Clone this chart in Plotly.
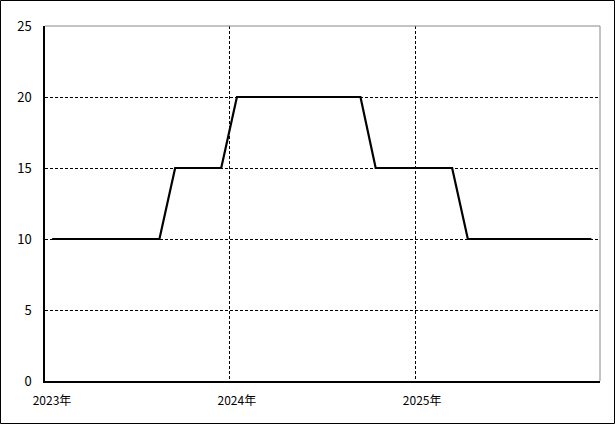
import plotly.graph_objects as go

months = [f"{y}-{m:02d}-15" for y in (2023, 2024, 2025) for m in range(1, 13)]
values = [10, 10, 10, 10, 10, 10, 10, 10, 15, 15, 15, 15,
          20, 20, 20, 20, 20, 20, 20, 20, 20, 15, 15, 15,
          15, 15, 15, 10, 10, 10, 10, 10, 10, 10, 10, 10]
x_tickvals = ["2023-01-01", "2024-01-01", "2025-01-01"]
x_ticktext = ["2023年", "2024年", "2025年"]
y_tickvals = [0, 5, 10, 15, 20, 25]

W, H = 615, 424
ML, MR, MT, MB = 45, 15, 26, 43
PW, PH = W - ML - MR, H - MT - MB

FONT = "Noto Sans CJK JP, DejaVu Sans, sans-serif"

fig = go.Figure()
fig.add_trace(go.Scatter(x=months, y=values, mode="lines",
                         line=dict(color="black", width=2.2), hoverinfo="skip",
                         showlegend=False))

fig.update_layout(
    width=W, height=H,
    margin=dict(l=ML, r=MR, t=MT, b=MB, pad=0),
    paper_bgcolor="white", plot_bgcolor="white",
    font=dict(family=FONT, size=13, color="black"),
    xaxis=dict(range=["2023-01-01", "2026-01-01"], type="date",
               tickvals=x_tickvals, ticktext=x_ticktext,
               showgrid=True, gridcolor="black", griddash="3px,2px", gridwidth=1,
               showline=True, linecolor="black", linewidth=1.5,
               ticks="", ticklabelshift=7, ticklabelstandoff=8,
               tickfont=dict(size=12), zeroline=False),
    yaxis=dict(range=[0, 25], tickvals=y_tickvals,
               showgrid=True, gridcolor="black", griddash="3px,2px", gridwidth=1,
               showline=True, linecolor="black", linewidth=1.5,
               ticks="", ticklabelstandoff=9, zeroline=False,
               tickfont=dict(size=13)),
    shapes=[
        dict(type="line", xref="paper", yref="paper", x0=0, x1=1, y0=1, y1=1,
             line=dict(color="#888888", width=1)),
        dict(type="line", xref="paper", yref="paper", x0=1, x1=1, y0=0, y1=1,
             line=dict(color="#888888", width=1)),
        dict(type="rect", xref="paper", yref="paper",
             x0=(0.5 - ML) / PW, x1=(W - 0.5 - ML) / PW,
             y0=-(MB - 0.5) / PH, y1=1 + (MT - 0.5) / PH,
             line=dict(color="black", width=1), fillcolor="rgba(0,0,0,0)",
             layer="above"),
    ],
)

fig.write_html("out.html", config={"displayModeBar": False},
               post_script="document.body.style.margin='0';document.body.style.overflow='hidden';")
